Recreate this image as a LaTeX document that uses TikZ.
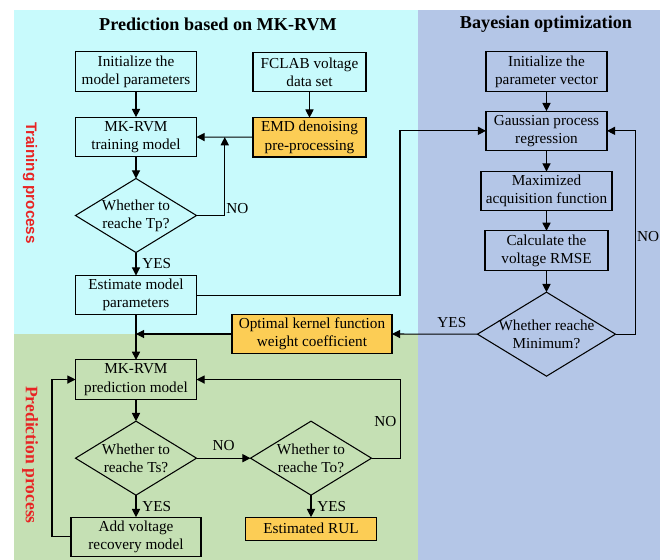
\documentclass[tikz,border=0pt]{standalone}
\usepackage{fontspec}
\setmainfont{Liberation Serif}
\newfontfamily\phasesans{Liberation Sans}
\usetikzlibrary{positioning,arrows.meta,shapes.geometric,calc}

\definecolor{trainbg}{RGB}{200,250,252}
\definecolor{predbg}{RGB}{197,224,180}
\definecolor{bayesbg}{RGB}{180,198,231}
\definecolor{optorange}{RGB}{252,205,85}
\definecolor{phasered}{RGB}{232,36,36}

\begin{document}
\begin{tikzpicture}[
  x=0.03cm, y=-0.03cm,
  font=\fontsize{13}{15.6}\selectfont,
  node distance=0.66cm,
  box/.style={draw, line width=0.9pt, minimum width=3.63cm, outer sep=0pt,
              minimum height=1.18cm, align=center, inner sep=2pt},
  hibox/.style={box, fill=optorange},
  decide/.style={draw, diamond, line width=0.9pt, minimum width=3.63cm, outer sep=0pt,
                 minimum height=2.22cm, inner sep=-12pt, align=center},
  arrow/.style={-{Triangle[length=7pt,width=7pt]}, line width=0.9pt},
  tag/.style={inner sep=1pt},
  title/.style={font=\fontsize{15.5}{18}\selectfont\bfseries},
  phase/.style={text=phasered, rotate=-90}
]
\useasboundingbox (0,0) rectangle (660,560);
% panels
\fill[trainbg] (14,10) rectangle (418,334);
\fill[predbg] (14,334) rectangle (418,560);
\fill[bayesbg] (418,10) rectangle (660,560);

\node[title] (ttl) at (218,24) {Prediction based on MK-RVM};
\node[title] (bttl) at (546,24) {Bayesian optimization};
\node[phase, font=\fontsize{13}{15}\selectfont\phasesans\bfseries] (trn) at (30,183) {Training process};
\node[phase, font=\fontsize{15}{18}\selectfont\bfseries] (prd) at (30,455) {Prediction process};

% training part
\node[box] (init) at (136,71.5) {Initialize the\\model parameters};
\node[box, below=0.78cm of init] (train) {MK-RVM\\training model};
\node[decide, below=of train] (tp) {Whether to\\reache Tp?};
\node[box, below=0.69cm of tp] (est) {Estimate model\\parameters};
\node[box, minimum width=3.39cm] (fclab) at (309.5,72) {FCLAB voltage\\data set};
\node[hibox, minimum width=3.39cm, below=0.78cm of fclab] (emd) {EMD denoising\\pre-processing};

% prediction part
\node[box, below=1.35cm of est] (pred) {MK-RVM\\prediction model};
\node[decide, below=of pred] (ts) {Whether to\\reache Ts?};
\node[box, minimum width=3.9cm, below=of ts] (addv) {Add voltage\\recovery model};
\node[decide, right=1.62cm of ts] (to) {Whether to\\reache To?};
\node[hibox, minimum width=3.93cm, minimum height=0.69cm, below=of to] (rul) {Estimated RUL};
\node[hibox, minimum width=4.8cm, minimum height=1.17cm] (opt) at (312,334) {Optimal kernel function\\weight coefficient};

% bayesian optimization
\node[box] (initvec) at (546.5,71.5) {Initialize the\\parameter vector};
\node[box, below=0.6cm of initvec] (gpr) {Gaussian process\\regression};
\node[box, minimum width=3.93cm, below=0.63cm of gpr] (acq) {Maximized\\acquisition function};
\node[box, minimum width=3.69cm, below=0.6cm of acq] (rmse) {Calculate the\\voltage RMSE};
\node[decide, minimum width=4.14cm, minimum height=2.52cm, below=of rmse] (min) {Whether reache\\Minimum?};

\coordinate (j1) at ($(train.east)!0.5!(emd.west)$);
\coordinate (bend1) at (400,0);

\draw[arrow] (init) -- (train);
\draw[arrow] (fclab) -- (emd);
\draw[arrow] (emd) -- (train);
\draw[arrow] (train) -- (tp);
\draw[arrow] (tp.east) -| node[pos=0.5, above right, tag] {NO} (j1);
\draw[arrow] (tp) -- node[right=4pt, tag] {YES} (est);
\draw[arrow] (est) -- (pred);
\draw[arrow] (est.east) -| (bend1 |- gpr.west) -- (gpr.west);
\draw[arrow] (opt.west) -- (opt.west -| est.south);
\draw[arrow] (pred) -- (ts);
\draw[arrow] (ts) -- node[right=4pt, tag] {YES} (addv);
\draw[arrow] (ts) -- node[above=5pt, tag] {NO} (to);
\draw[arrow] (to) -- node[right=4pt, tag] {YES} (rul);
\draw[arrow] (to.east) -- ++(29,0) |- node[pos=0.23, left=2pt, tag] {NO} (pred.east);
\draw[arrow] (addv.west) -- ++(-19,0) |- (pred.west);

\draw[arrow] (initvec) -- (gpr);
\draw[arrow] (gpr) -- (acq);
\draw[arrow] (acq) -- (rmse);
\draw[arrow] (rmse) -- (min);
\draw[arrow] (min.west) -- node[pos=0.3, above=4pt, tag] {YES} (opt.east);
\draw[arrow] (min.east) -- ++(20,0) |- node[pos=0.24, right, tag] {NO} (gpr.east);
\end{tikzpicture}
\end{document}
